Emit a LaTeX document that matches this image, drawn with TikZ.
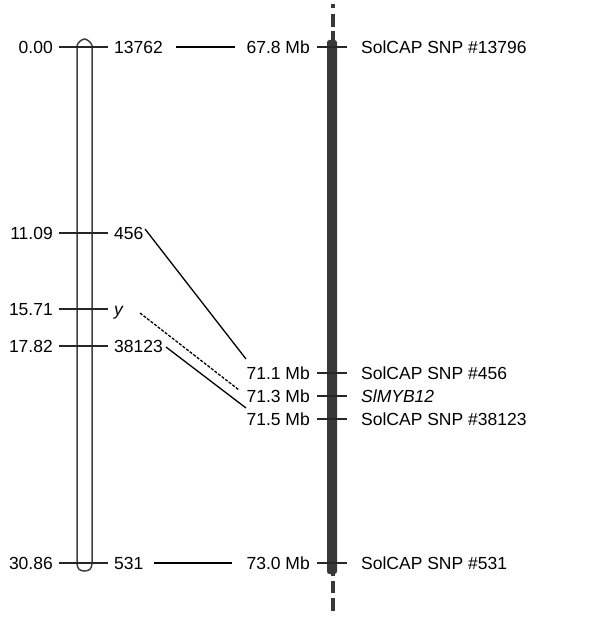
\documentclass[tikz,border=0pt]{standalone}
\usepackage{fontspec}
\setmainfont{Liberation Sans}
\begin{document}
\begin{tikzpicture}[x=1pt,y=-1pt,
  lbl/.style={inner sep=0pt,font=\fontsize{17.5}{20}\selectfont},
  tickln/.style={line width=1.4pt,black!85},
  link/.style={line width=1.3pt,black},
  dlink/.style={line width=1.3pt,black,dash pattern=on 3pt off 1.5pt},
  tube/.style={line width=1.5pt,black!75},
  barcol/.style={fill=black!78}]
\useasboundingbox (0,0) rectangle (600,617);
% left chromosome (genetic map)
\draw[tube] (77,563) -- (77,46) .. controls (77,43) and (82,39) .. (84.5,39)
  .. controls (87,39) and (92,43) .. (92,46) -- (92,563)
  .. controls (92,569) and (89,571) .. (84.5,571)
  .. controls (80,571) and (77,569) .. (77,563) -- cycle;
\foreach \yy in {47,233,309,346,563} \draw[tickln] (59,\yy) -- (108,\yy);
\node[lbl,anchor=base east] (c0) at (53,53.5) {0.00};
\node[lbl,anchor=base east] (c1) at (53,239.5) {11.09};
\node[lbl,anchor=base east] (c2) at (53,315.5) {15.71};
\node[lbl,anchor=base east] (c3) at (53,352.5) {17.82};
\node[lbl,anchor=base east] (c4) at (53,569.5) {30.86};
\node[lbl,anchor=base west] (m0) at (114,53.5) {13762};
\node[lbl,anchor=base west] (m1) at (114,239.5) {456};
\node[lbl,anchor=base west] (m2) at (114,315.5) {\itshape y};
\node[lbl,anchor=base west] (m3) at (114,352.5) {38123};
\node[lbl,anchor=base west] (m4) at (114,569.5) {531};
% right chromosome (physical map)
\fill[barcol] (331,4) rectangle (335,8);
\fill[barcol] (331,14) rectangle (335,27);
\fill[barcol] (331,31) rectangle (335,42);
\fill[barcol,rounded corners=2.5pt] (327,40) rectangle (337,574);
\fill[barcol] (331,572) rectangle (335,576);
\fill[barcol] (331,581) rectangle (335,593);
\fill[barcol] (331,598) rectangle (335,611);
\foreach \yy in {47,373,396,419,563} \draw[tickln] (317,\yy) -- (347,\yy);
\node[lbl,anchor=base east] (p0) at (310,53.5) {67.8 Mb};
\node[lbl,anchor=base east] (p1) at (310,379.5) {71.1 Mb};
\node[lbl,anchor=base east] (p2) at (310,402.5) {71.3 Mb};
\node[lbl,anchor=base east] (p3) at (310,425.5) {71.5 Mb};
\node[lbl,anchor=base east] (p4) at (310,569.5) {73.0 Mb};
\node[lbl,anchor=base west] (s0) at (361,53.5) {SolCAP SNP \#13796};
\node[lbl,anchor=base west] (s1) at (361,379.5) {SolCAP SNP \#456};
\node[lbl,anchor=base west] (s2) at (361,402.5) {\itshape SlMYB12};
\node[lbl,anchor=base west] (s3) at (361,425.5) {SolCAP SNP \#38123};
\node[lbl,anchor=base west] (s4) at (361,569.5) {SolCAP SNP \#531};
% connectors
\coordinate (a0) at (176,47); \coordinate (b0) at (235,47);
\coordinate (a1) at (145,229); \coordinate (b1) at (246,359);
\coordinate (a2) at (140,313); \coordinate (b2) at (239,390);
\coordinate (a3) at (166,347); \coordinate (b3) at (246,408);
\coordinate (a4) at (154,563); \coordinate (b4) at (232,563);
\draw[link] (a0) -- (b0);
\draw[link] (a1) -- (b1);
\draw[dlink] (a2) -- (b2);
\draw[link] (a3) -- (b3);
\draw[link] (a4) -- (b4);
\end{tikzpicture}
\end{document}
